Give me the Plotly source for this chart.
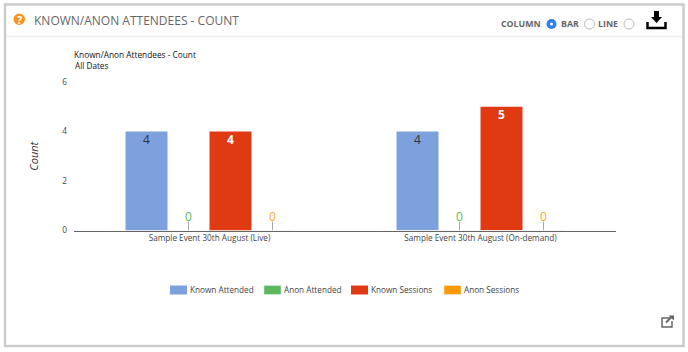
import plotly.graph_objects as go

categories = ["Sample Event 30th August (Live)", "Sample Event 30th August (On-demand)"]
known_attended = [4, 4]
anon_attended = [0, 0]
known_sessions = [4, 5]
anon_sessions = [0, 0]
y_ticks = [0, 2, 4, 6]
stem_height = [0.36, 0.36]

W, H = 688, 352
FONT = "Open Sans"
def px(x): return x / W
def py(y): return 1 - y / H

fig = go.Figure()

fig.add_bar(name="Known Attended", x=categories, y=known_attended, marker=dict(color="#7ca1dd", line=dict(width=0)),
            text=known_attended, textposition="inside", insidetextanchor="end", textangle=0,
            insidetextfont=dict(color="#333333", size=12, family=FONT))
fig.add_bar(name="Anon Attended", x=categories, y=anon_attended, marker=dict(color="#5cb85c"),
            text=anon_attended, textposition="outside", cliponaxis=False, textangle=0,
            outsidetextfont=dict(color="#5cb85c", size=12, family=FONT),
            error_y=dict(type="data", symmetric=False, array=stem_height, arrayminus=[0, 0], width=0, color="#aaaaaa", thickness=1))
fig.add_bar(name="Known Sessions", x=categories, y=known_sessions, marker=dict(color="#e03a12", line=dict(width=0)),
            text=[f"<b>{v}</b>" for v in known_sessions], textposition="inside", insidetextanchor="end", textangle=0,
            insidetextfont=dict(color="#ffffff", size=12, family=FONT))
fig.add_bar(name="Anon Sessions", x=categories, y=anon_sessions, marker=dict(color="#ff9900"),
            text=anon_sessions, textposition="outside", cliponaxis=False, textangle=0,
            outsidetextfont=dict(color="#ffa726", size=12, family=FONT),
            error_y=dict(type="data", symmetric=False, array=stem_height, arrayminus=[0, 0], width=0, color="#aaaaaa", thickness=1))

shapes = [
    dict(type="rect", xref="paper", yref="paper", x0=px(5), x1=px(683.5), y0=py(346), y1=py(4.5),
         line=dict(color="#cccccc", width=2.5), fillcolor="rgba(0,0,0,0)", layer="below"),
    dict(type="line", xref="paper", yref="paper", x0=px(6), x1=px(682), y0=py(36.5), y1=py(36.5),
         line=dict(color="#eeeeee", width=1.5)),
    dict(type="circle", xref="paper", yref="paper", x0=px(13.5), x1=px(25), y0=py(25), y1=py(13.5),
         fillcolor="#f7941d", line=dict(width=0)),
    dict(type="circle", xref="paper", yref="paper", x0=px(546.5), x1=px(556.5), y0=py(29), y1=py(19),
         fillcolor="#2f80ed", line=dict(width=0)),
    dict(type="circle", xref="paper", yref="paper", x0=px(550), x1=px(553), y0=py(25.5), y1=py(22.5),
         fillcolor="#ffffff", line=dict(width=0)),
    dict(type="circle", xref="paper", yref="paper", x0=px(584.5), x1=px(594.5), y0=py(29), y1=py(19),
         fillcolor="#ffffff", line=dict(color="#bbbbbb", width=1)),
    dict(type="circle", xref="paper", yref="paper", x0=px(624), x1=px(634), y0=py(29), y1=py(19),
         fillcolor="#ffffff", line=dict(color="#bbbbbb", width=1)),
]

def path(pts, fill=None, color="#000000", width=2):
    d = "M" + " L".join(f"{px(x):.5f},{py(y):.5f}" for x, y in pts)
    if fill:
        d += " Z"
    return dict(type="path", xref="paper", yref="paper", path=d,
                fillcolor=fill or "rgba(0,0,0,0)", line=dict(color=color, width=width if not fill else 0))

shapes += [
    path([(647.5, 22), (647.5, 28), (665.5, 28), (665.5, 22)], width=2.5),
    path([(654, 11), (659, 11), (659, 17), (662, 17), (656.5, 23), (651, 17), (654, 17)], fill="#000000"),
    path([(671, 318), (662, 318), (662, 327), (672, 327), (672, 321)], color="#666666", width=1.5),
    path([(666, 322.5), (672, 316.5)], color="#666666", width=2),
    path([(668.5, 315.5), (674, 315.5), (674, 320.5)], fill="#666666"),
]

def note(x, y, text, size=12, color="#555555", anchor="left", **kw):
    return dict(xref="paper", yref="paper", x=px(x), y=py(y), text=text, showarrow=False,
                xanchor=anchor, yanchor="middle", font=dict(size=size, color=color, family=FONT), **kw)

annotations = [
    note(31.5, 20.5, "KNOWN/ANON ATTENDEES - COUNT", size=12, color="#666666"),
    note(19.2, 19.2, "<b>?</b>", size=11, color="#ffffff", anchor="center"),
    note(499, 24, "<b>COLUMN</b>", size=8.8, color="#666666"),
    note(558.5, 24, "<b>BAR</b>", size=8.8, color="#666666"),
    note(596, 24, "<b>LINE</b>", size=8.8, color="#666666"),
    note(72.5, 65, "All Dates", size=8.2, color="#111111"),
]

fig.update_layout(
    width=W, height=H, margin=dict(l=0, r=0, t=0, b=0, autoexpand=False),
    paper_bgcolor="#ffffff", plot_bgcolor="#ffffff",
    barmode="group", bargap=0.38, bargroupgap=0,
    font=dict(family=FONT, size=8.2, color="#555555"),
    title=dict(text="Known/Anon Attendees - Count", x=px(74), xanchor="left", y=py(55), yanchor="middle",
               font=dict(size=8.3, color="#111111", family=FONT)),
    xaxis=dict(domain=[px(74), px(616)], showline=True, linecolor="#666666", linewidth=1, ticks="",
               tickfont=dict(size=8.2, color="#444444")),
    yaxis=dict(domain=[py(230.5), py(82)], range=[0, 6], tickvals=y_ticks, showgrid=False, zeroline=False,
               showline=False, ticks="", ticklabelstandoff=6, tickfont=dict(size=8.2, color="#444444"),
               title=dict(text="<i>Count</i>", font=dict(size=11, color="#333333", family=FONT), standoff=21)),
    legend=dict(orientation="h", x=px(150), xanchor="left", y=py(290), yanchor="middle",
                font=dict(size=8.2, color="#444444"), entrywidthmode="pixels", entrywidth=50,
                traceorder="normal", bgcolor="rgba(0,0,0,0)"),
    shapes=shapes, annotations=annotations, showlegend=True,
)

post = """
document.body.style.margin='0';
var gd=document.getElementsByClassName('plotly-graph-div')[0];
gd.querySelectorAll('.legend .legendundefined, .legend .legendbar path, .legend .legendpoints path').forEach(function(p){
  if(p.getAttribute('d')) p.setAttribute('d','M17,4.5H0V-4.5H17Z');
});
var offs=[0,94,181,274];
var sb=gd.querySelector('.legend .scrollbox'); if(sb) sb.removeAttribute('clip-path');
gd.querySelectorAll('.legend .traces').forEach(function(t,i){
  var m=/translate\\(([^,]+),\\s*([^)]+)\\)/.exec(t.getAttribute('transform'));
  t.setAttribute('transform','translate('+offs[i]+','+(m?m[2]:0)+')');
});
gd.querySelectorAll('.barlayer text').forEach(function(t){
  var old=t.getAttribute('transform')||'';
  var dy=(t.textContent.trim()==='0')?-3:-4;
  t.setAttribute('transform','translate(0,'+dy+') '+old);
});
"""
fig.write_html("out.html", post_script=post, config=dict(displayModeBar=False))
